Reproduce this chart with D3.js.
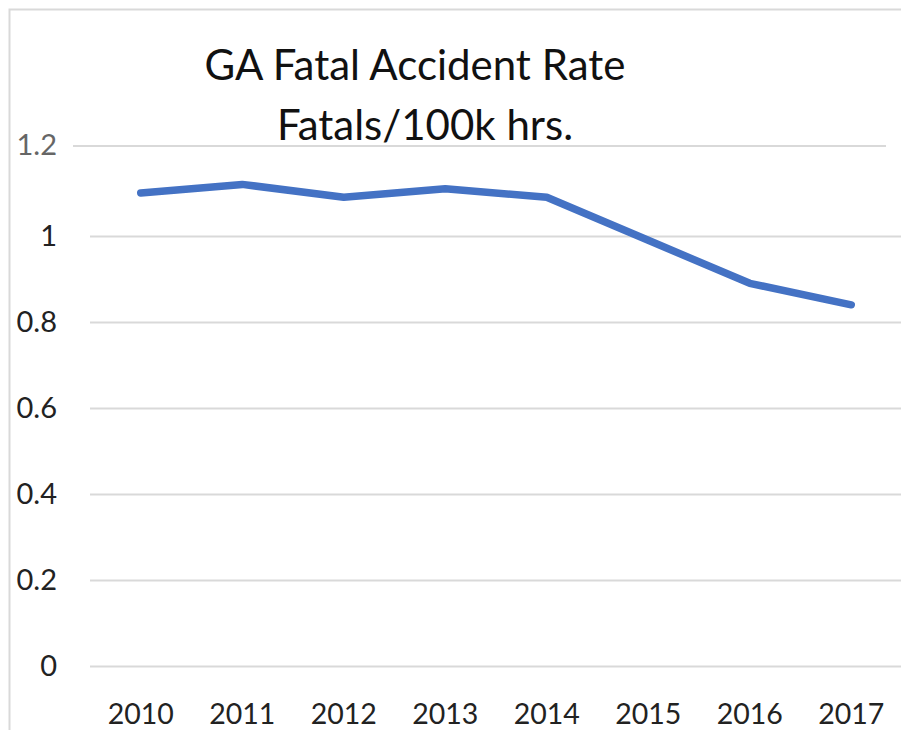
<!DOCTYPE html>
<html>
<head>
<meta charset="utf-8">
<script src="https://cdn.jsdelivr.net/npm/d3@7"></script>
<style>
  body { margin: 0; background: #fff; }
  text { font-family: Lato, "Open Sans", sans-serif; }
</style>
</head>
<body>
<script>
'use strict';

// chart data
const years = ["2010", "2011", "2012", "2013", "2014", "2015", "2016", "2017"];
const rates = [1.10, 1.12, 1.09, 1.11, 1.09, 0.99, 0.89, 0.84];
const yTicks = [0, 0.2, 0.4, 0.6, 0.8, 1, 1.2];
const titleLines = ["GA Fatal Accident Rate", "Fatals/100k hrs."];

(function() {
  const width = 901, height = 730;

  let svg = d3.select('body')
    .append('svg')
    .attr('width', width)
    .attr('height', height);

  // light frame (left + top edges visible)
  svg.append('rect')
    .attr('x', 9.5)
    .attr('y', 9.5)
    .attr('width', 960)
    .attr('height', 800)
    .attr('fill', 'none')
    .attr('stroke', '#d9d9d9')
    .attr('stroke-width', 2);

  let x = d3.scaleBand()
    .domain(years)
    .range([90, 902]);

  let y = d3.scaleLinear()
    .domain([0, 1.2])
    .range([666, 150]);

  // y axis with gridlines
  let yAxis = d3.axisLeft(y)
    .tickValues(yTicks)
    .tickFormat(d => d3.format('~g')(d))
    .tickSize(-(902 - 90))
    .tickPadding(33);

  let gy = svg.append('g')
    .attr('transform', 'translate(90, 0)')
    .call(yAxis);
  gy.select('.domain').remove();
  gy.selectAll('.tick line')
    .attr('stroke', '#d9d9d9')
    .attr('stroke-width', 2);
  gy.selectAll('.tick text')
    .attr('fill', '#222')
    .style('font-size', '29px');

  // the top gridline sits a bit higher and shorter, with a grey label
  let top = gy.selectAll('.tick').filter(d => d === 1.2);
  top.attr('transform', 'translate(0,' + (y(1.2) - 4) + ')');
  top.select('line').attr('x1', -17).attr('x2', 796);
  top.select('text').attr('fill', '#666');

  // x axis labels
  let xAxis = d3.axisBottom(x)
    .tickSize(0)
    .tickPadding(38);
  let gx = svg.append('g')
    .attr('transform', 'translate(0, 666)')
    .call(xAxis);
  gx.select('.domain').remove();
  gx.selectAll('.tick text')
    .attr('fill', '#222')
    .style('font-size', '28.5px');

  // the line
  let line = d3.line()
    .x((d, i) => x(years[i]) + x.bandwidth() / 2)
    .y(d => y(d));

  svg.append('path')
    .attr('d', line(rates))
    .attr('fill', 'none')
    .attr('stroke', '#4472c4')
    .attr('stroke-width', 7.5)
    .attr('stroke-linecap', 'round')
    .attr('stroke-linejoin', 'round');

  // title
  svg.append('text')
    .attr('x', 415)
    .attr('y', 80)
    .attr('text-anchor', 'middle')
    .attr('fill', '#111')
    .style('font-size', '42px')
    .text(titleLines[0]);

  svg.append('text')
    .attr('x', 425)
    .attr('y', 140)
    .attr('text-anchor', 'middle')
    .attr('fill', '#111')
    .style('font-size', '42px')
    .text(titleLines[1]);
})();
</script>
</body>
</html>
